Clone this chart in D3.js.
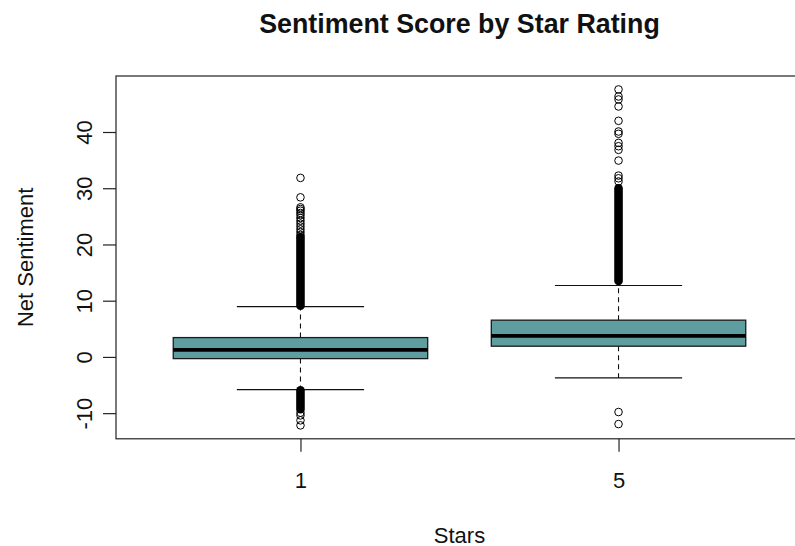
<!DOCTYPE html>
<html>
<head>
<meta charset="utf-8">
<script src="https://cdn.jsdelivr.net/npm/d3@7"></script>
<style>
  body { margin: 0; background: #fff; }
  svg { display: block; }
  text { font-family: "Liberation Sans", Arial, sans-serif; fill: #111; }
</style>
</head>
<body>
<svg id="chart" width="795" height="546"></svg>
<script>
// Box statistics per star rating
const categories = ["1", "5"];
const lowerWhisker = [-5.83, -3.74];
const q1 = [-0.30, 1.91];
const median = [1.25, 3.74];
const q3 = [3.44, 6.54];
const upperWhisker = [8.96, 12.70];

// Outliers that stand apart from one another
const outliers1 = [31.84, 28.38, 26.6, 26.3, 26.0, 25.6, 25.2, 24.7, 24.2, 23.7, 23.2, 22.7, 22.2, 21.7,
                   -9.92, -10.4, -11.28, -12.17];
const outliers5 = [47.57, 46.32, 45.79, 44.54, 41.99, 40.09, 39.68, 38.07, 37.47, 36.83, 34.92, 32.25, 31.77, 31.2,
                   -9.80, -11.94];

// Runs of outliers so dense that their circles merge into a solid column
const denseRuns1 = [[9.1, 21.3], [-9.3, -5.95]];
const denseRuns5 = [[13.5, 30.0]];

const yTicks = [-10, 0, 10, 20, 30, 40];

const groups = categories.map((c, i) => ({
  pos: i + 1,
  label: c,
  lo: lowerWhisker[i], q1: q1[i], med: median[i], q3: q3[i], hi: upperWhisker[i],
  outliers: [outliers1, outliers5][i],
  runs: [denseRuns1, denseRuns5][i]
}));

const svg = d3.select("#chart");
const plot = { left: 116, right: 803, top: 76, bottom: 438.8 };

// y range padded 4% beyond the data, x range 0.5..n+0.5 padded 4%
const allVals = groups.flatMap(g => [g.lo, g.hi, ...g.outliers, ...g.runs.flat()]);
const [vmin, vmax] = d3.extent(allVals);
const pad = (vmax - vmin) * 0.04;
const y = d3.scaleLinear().domain([vmin - pad, vmax + pad]).range([plot.bottom, plot.top]);
const xPad = (groups.length) * 0.04;
const x = d3.scaleLinear().domain([0.5 - xPad, groups.length + 0.5 + xPad]).range([plot.left, plot.right]);

const boxHalf = 0.4, stapleHalf = 0.2, r = 3.8;
const g = svg.append("g");

groups.forEach(d => {
  const cx = x(d.pos);
  // whiskers
  g.append("line").attr("x1", cx).attr("x2", cx).attr("y1", y(d.q3)).attr("y2", y(d.hi))
    .attr("stroke", "#111").attr("stroke-width", 1.1).attr("stroke-dasharray", "5,4");
  g.append("line").attr("x1", cx).attr("x2", cx).attr("y1", y(d.q1)).attr("y2", y(d.lo))
    .attr("stroke", "#111").attr("stroke-width", 1.1).attr("stroke-dasharray", "5,4");
  // staples
  [d.hi, d.lo].forEach(v => {
    g.append("line").attr("x1", x(d.pos - stapleHalf)).attr("x2", x(d.pos + stapleHalf))
      .attr("y1", y(v)).attr("y2", y(v)).attr("stroke", "#111").attr("stroke-width", 1.2);
  });
  // box
  g.append("rect").attr("x", x(d.pos - boxHalf)).attr("width", x(d.pos + boxHalf) - x(d.pos - boxHalf))
    .attr("y", y(d.q3)).attr("height", y(d.q1) - y(d.q3))
    .attr("fill", "#5F9EA0").attr("stroke", "#1a1a1a").attr("stroke-width", 1.3);
  // median
  g.append("line").attr("x1", x(d.pos - boxHalf)).attr("x2", x(d.pos + boxHalf))
    .attr("y1", y(d.med)).attr("y2", y(d.med)).attr("stroke", "#000").attr("stroke-width", 3.8);
  // dense outlier runs
  d.runs.forEach(([a, b]) => {
    g.append("rect").attr("x", cx - r - 0.5).attr("width", 2 * r + 1)
      .attr("y", y(b) - r - 0.5).attr("height", y(a) - y(b) + 2 * r + 1)
      .attr("rx", r + 0.5).attr("fill", "#000");
  });
  // single outliers
  g.selectAll(null).data(d.outliers).enter().append("circle")
    .attr("cx", cx).attr("cy", v => y(v)).attr("r", r)
    .attr("fill", "none").attr("stroke", "#000").attr("stroke-width", 1);
});

// frame
svg.append("rect").attr("x", plot.left).attr("y", plot.top)
  .attr("width", plot.right - plot.left).attr("height", plot.bottom - plot.top)
  .attr("fill", "none").attr("stroke", "#222").attr("stroke-width", 1.2);

// y axis
const yAxis = svg.append("g").attr("transform", `translate(${plot.left},0)`)
  .call(d3.axisLeft(y).tickValues(yTicks).tickSize(13).tickFormat(v => String(v)));
yAxis.select(".domain").remove();
yAxis.selectAll(".tick line").attr("stroke", "#222").attr("stroke-width", 1.2);
yAxis.selectAll(".tick text")
  .attr("transform", "rotate(-90)").attr("x", 0).attr("y", -24).attr("dy", null)
  .attr("text-anchor", "middle").style("font-size", "22px").attr("fill", "#111");

// x axis
const xAxis = svg.append("g").attr("transform", `translate(0,${plot.bottom})`)
  .call(d3.axisBottom(x).tickValues(groups.map(d => d.pos)).tickSize(13)
    .tickFormat(p => categories[p - 1]));
xAxis.select(".domain").remove();
xAxis.selectAll(".tick line").attr("stroke", "#222").attr("stroke-width", 1.2);
xAxis.selectAll(".tick text").attr("y", 488 - plot.bottom).attr("dy", null)
  .style("font-size", "22px").attr("fill", "#111");

// titles
const cxPlot = (plot.left + plot.right) / 2;
svg.append("text").attr("x", cxPlot).attr("y", 33).attr("text-anchor", "middle")
  .style("font-size", "26.8px").style("font-weight", "bold").text("Sentiment Score by Star Rating");
svg.append("text").attr("x", cxPlot).attr("y", 542.5).attr("text-anchor", "middle")
  .style("font-size", "22px").text("Stars");
svg.append("text").attr("transform", `translate(32.5,${(plot.top + plot.bottom) / 2}) rotate(-90)`)
  .attr("text-anchor", "middle").style("font-size", "22px").text("Net Sentiment");
</script>
</body>
</html>
